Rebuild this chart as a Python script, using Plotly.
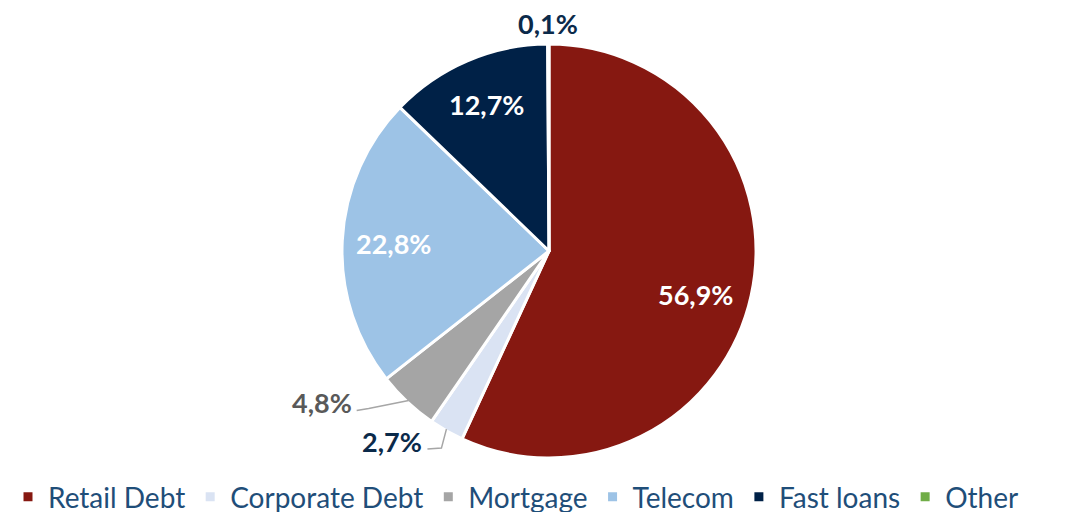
import math
import plotly.graph_objects as go

labels = ["Retail Debt", "Corporate Debt", "Mortgage", "Telecom", "Fast loans", "Other"]
values = [56.9, 2.7, 4.8, 22.8, 12.7, 0.1]
text_labels = ["56,9%", "2,7%", "4,8%", "22,8%", "12,7%", "0,1%"]
colors = ["#861811", "#DAE3F3", "#A5A5A5", "#9DC3E6", "#002147", "#70AD47"]

W, H = 1076, 512
CX, CY, R = 541, 243, 207

fig = go.Figure(go.Pie(
    labels=labels, values=values, sort=False, direction="clockwise", rotation=0,
    marker=dict(colors=colors, line=dict(color="white", width=3)),
    textinfo="none", hoverinfo="label+percent",
    domain=dict(x=[(CX - R) / W, (CX + R) / W], y=[1 - (CY + R) / H, 1 - (CY - R) / H]),
))

def px(x, y):
    return x / W, 1 - y / H

# label placement style per slice: (radius factor, angle shift deg, text color)
style = [
    (0.74, 4, "white"),
    (None, 0, "#0B2A4A"),
    (None, 0, "#595959"),
    (0.75, 0, "white"),
    (0.77, 0, "white"),
    ("top", 0, "#0B2A4A"),
]

total = sum(values)
cum = 0
font = "Lato"
for i, v in enumerate(values):
    rf, shift, col = style[i]
    mid = (cum + v / 2) / total * 2 * math.pi + math.radians(shift)
    cum += v
    sx, sy = math.sin(mid), -math.cos(mid)
    if rf == "top":
        x, y = px(CX + sx * R, CY + sy * R - 2)
        fig.add_annotation(x=x, y=y, xref="paper", yref="paper", text="<b>%s</b>" % text_labels[i],
                           showarrow=False, xanchor="center", yanchor="bottom",
                           font=dict(family=font, size=27, color=col))
    elif rf is not None:
        x, y = px(CX + sx * R * rf, CY + sy * R * rf)
        fig.add_annotation(x=x, y=y, xref="paper", yref="paper", text="<b>%s</b>" % text_labels[i],
                           showarrow=False, xanchor="center", yanchor="middle",
                           font=dict(family=font, size=27, color=col))
    else:
        ex, ey = CX + sx * (R - 2), CY + sy * (R - 2)
        if i == 2:
            pts = [(ex, ey), (ex - 40, ey + 8), (ex - 52, ey + 10)]
        else:
            pts = [(ex - 1, ey), (ex - 6, ey + 19), (ex - 20, ey + 20)]
        path = "M " + " L ".join("%f,%f" % px(*p) for p in pts)
        fig.add_shape(type="path", path=path, xref="paper", yref="paper",
                      line=dict(color="#A6A6A6", width=1.5))
        lx, ly = pts[-1]
        tx, ty = px(lx - 3, ly - 8)
        fig.add_annotation(x=tx, y=ty, xref="paper", yref="paper", text="<b>%s</b>" % text_labels[i],
                           showarrow=False, xanchor="right", yanchor="middle",
                           font=dict(family=font, size=27, color=col))

fig.update_layout(
    width=W, height=H, margin=dict(l=0, r=0, t=0, b=0, autoexpand=False),
    paper_bgcolor="white", plot_bgcolor="white",
    showlegend=True,
    legend=dict(orientation="h", x=0, xanchor="left", y=1 - 489 / H, yanchor="middle",
                font=dict(family=font, size=28, color="#1F4E79"),
                itemwidth=30, tracegroupgap=0),
)

fig.write_html("out.html")
